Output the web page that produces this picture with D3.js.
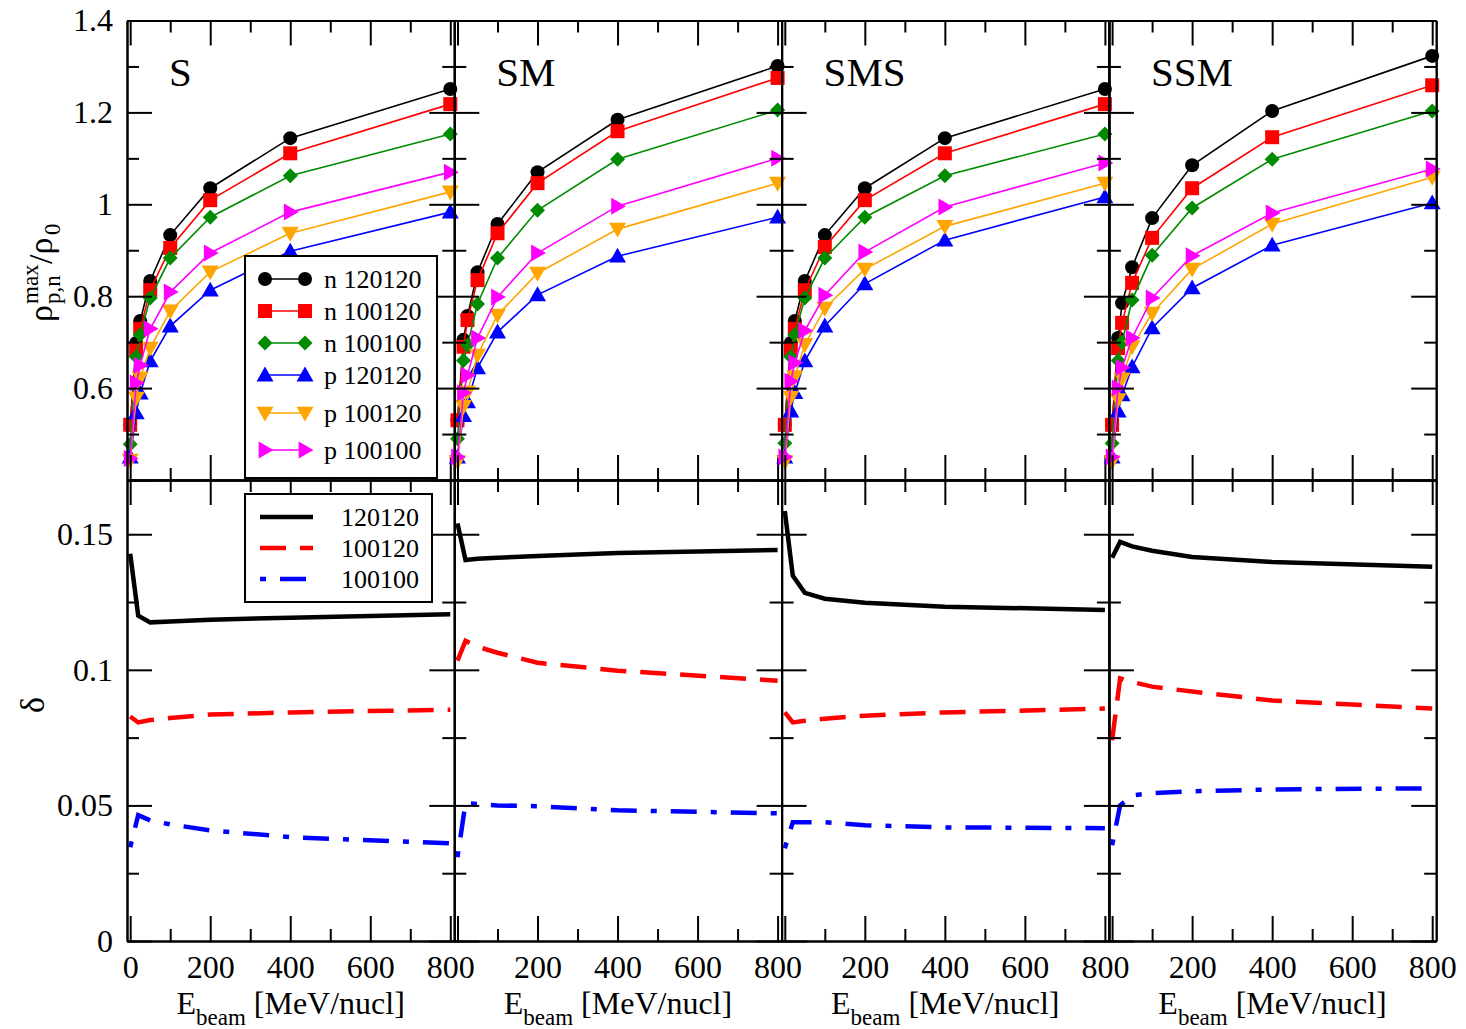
<!DOCTYPE html>
<html>
<head>
<meta charset="utf-8">
<script src="https://cdn.jsdelivr.net/npm/d3@7"></script>
<style>
  body { margin: 0; background: #fff; }
  svg text { font-family: "Liberation Serif", "Times New Roman", serif; fill: #000; }
</style>
</head>
<body>
<div id="chart"></div>
<script>
// Beam energies (MeV/nucl) of the calculated points
const energies = [0, 15, 25, 50, 100, 200, 400, 800];
const energiesDelta = [0, 20, 50, 100, 200, 400, 800];

const panelNames = ["S", "SM", "SMS", "SSM"];
const seriesNames = ["n 120120", "n 100120", "n 100100", "p 120120", "p 100120", "p 100100"];
const seriesColors = ["#000000", "#ff0000", "#008b00", "#0000ff", "#ffa500", "#ff00ff"];
const seriesSymbols = ["circle", "square", "diamond", "up", "down", "right"];

// rho_max / rho_0, one row per series (order as seriesNames)
const rhoS = [
  [0.52, 0.698, 0.746, 0.833, 0.933, 1.035, 1.144, 1.251],
  [0.52, 0.683, 0.729, 0.813, 0.905, 1.009, 1.111, 1.218],
  [0.478, 0.668, 0.716, 0.796, 0.883, 0.972, 1.062, 1.153],
  [0.45, 0.546, 0.589, 0.659, 0.735, 0.813, 0.898, 0.983],
  [0.443, 0.578, 0.622, 0.687, 0.768, 0.853, 0.937, 1.027],
  [0.447, 0.611, 0.650, 0.729, 0.809, 0.894, 0.983, 1.070]
];
const rhoSM = [
  [0.53, 0.705, 0.757, 0.852, 0.957, 1.070, 1.184, 1.301],
  [0.53, 0.690, 0.748, 0.835, 0.937, 1.046, 1.159, 1.275],
  [0.49, 0.660, 0.694, 0.783, 0.883, 0.987, 1.098, 1.205],
  [0.45, 0.540, 0.570, 0.644, 0.722, 0.803, 0.887, 0.972],
  [0.44, 0.560, 0.591, 0.672, 0.759, 0.850, 0.946, 1.046],
  [0.45, 0.590, 0.628, 0.709, 0.798, 0.894, 0.996, 1.100]
];
const rhoSMS = [
  [0.52, 0.698, 0.746, 0.833, 0.933, 1.035, 1.144, 1.251],
  [0.52, 0.683, 0.729, 0.813, 0.907, 1.009, 1.111, 1.218],
  [0.48, 0.668, 0.716, 0.796, 0.883, 0.972, 1.062, 1.153],
  [0.45, 0.550, 0.590, 0.659, 0.735, 0.827, 0.922, 1.016],
  [0.44, 0.580, 0.625, 0.695, 0.774, 0.859, 0.952, 1.046],
  [0.45, 0.615, 0.655, 0.725, 0.802, 0.896, 0.994, 1.090]
];
const rhoSSM = [
  [0.52, 0.709, 0.785, 0.863, 0.970, 1.085, 1.203, 1.323],
  [0.52, 0.687, 0.742, 0.829, 0.927, 1.035, 1.146, 1.259],
  [0.48, 0.660, 0.700, 0.792, 0.889, 0.992, 1.098, 1.203],
  [0.45, 0.550, 0.585, 0.646, 0.731, 0.818, 0.911, 1.003],
  [0.44, 0.575, 0.620, 0.690, 0.763, 0.859, 0.957, 1.059],
  [0.45, 0.600, 0.645, 0.709, 0.796, 0.888, 0.981, 1.077]
];

// delta, one row per system
const deltaNames = ["120120", "100120", "100100"];
const deltaColors = ["#000000", "#ff0000", "#0000ff"];
const deltaDashes = [null, "26,14", "6,14,26,14"];
const deltaS = [
  [0.1428, 0.1200, 0.1175, 0.1178, 0.1185, 0.1192, 0.1205],
  [0.0828, 0.0806, 0.0815, 0.0822, 0.0835, 0.0843, 0.0853],
  [0.0346, 0.0464, 0.0445, 0.0430, 0.0408, 0.0383, 0.0360]
];
const deltaSM = [
  [0.1540, 0.1405, 0.1410, 0.1413, 0.1420, 0.1431, 0.1442],
  [0.1034, 0.1107, 0.1085, 0.1063, 0.1026, 0.0997, 0.0960],
  [0.0309, 0.0508, 0.0505, 0.0500, 0.0497, 0.0482, 0.0471]
];
const deltaSMS = [
  [0.1586, 0.1347, 0.1284, 0.1262, 0.1247, 0.1233, 0.1221],
  [0.0843, 0.0806, 0.0812, 0.0820, 0.0831, 0.0843, 0.0857],
  [0.0342, 0.0438, 0.0438, 0.0438, 0.0427, 0.0419, 0.0416]
];
const deltaSSM = [
  [0.1413, 0.1472, 0.1455, 0.1439, 0.1416, 0.1398, 0.1380],
  [0.0740, 0.0968, 0.0955, 0.0938, 0.0920, 0.0887, 0.0857],
  [0.0353, 0.0500, 0.0537, 0.0545, 0.0552, 0.0559, 0.0563]
];

const rhoPanels = [rhoS, rhoSM, rhoSMS, rhoSSM];
const deltaPanels = [deltaS, deltaSM, deltaSMS, deltaSSM];

// Tick values
const xMajor = [0, 200, 400, 600, 800];
const xMinor = [100, 300, 500, 700];
const rhoMajor = [0.4, 0.6, 0.8, 1.0, 1.2, 1.4];
const rhoMinor = [0.5, 0.7, 0.9, 1.1, 1.3];
const deltaMajor = [0, 0.05, 0.1, 0.15];
const deltaMinor = [0.025, 0.075, 0.125];

// Layout
const width = 1466, height = 1029;
const left0 = 127, panelW = 327.3;
const topY = 20.5, midY = 480, botY = 941;
const bigTick = 25, smallTick = 12;
const serif = '"Liberation Serif", "Times New Roman", serif';

const svg = d3.select("#chart").append("svg")
  .attr("width", width)
  .attr("height", height);

const yRho = d3.scaleLinear().domain([0.4, 1.4]).range([midY, topY]);
const yDelta = d3.scaleLinear().domain([0, 0.17]).range([botY, midY]);

const fmt = d => String(+d.toFixed(3));

function addAxis(axisFn, scale, transform, values, size, labelFn) {
  const ax = axisFn(scale)
    .tickValues(values)
    .tickSize(-size)
    .tickSizeOuter(0)
    .tickPadding(14)
    .tickFormat(labelFn || (() => ""));
  const g = svg.append("g").attr("transform", transform).call(ax);
  g.attr("font-family", serif).attr("font-size", 32);
  g.selectAll("path.domain").attr("stroke", "#000").attr("stroke-width", 2);
  g.selectAll(".tick line").attr("stroke", "#000").attr("stroke-width", 2);
  return g;
}

function frame(x, y, yMajor, yMinor, xLabelFn, yLabelFn) {
  const [x0, x1] = x.range();
  const [y0, y1] = y.range();
  // bottom + top
  addAxis(d3.axisBottom, x, `translate(0,${y0})`, xMajor, bigTick, xLabelFn);
  addAxis(d3.axisBottom, x, `translate(0,${y0})`, xMinor, smallTick);
  addAxis(d3.axisTop, x, `translate(0,${y1})`, xMajor, bigTick);
  addAxis(d3.axisTop, x, `translate(0,${y1})`, xMinor, smallTick);
  // left + right
  addAxis(d3.axisLeft, y, `translate(${x0},0)`, yMajor, bigTick, yLabelFn);
  addAxis(d3.axisLeft, y, `translate(${x0},0)`, yMinor, smallTick);
  addAxis(d3.axisRight, y, `translate(${x1},0)`, yMajor, bigTick);
  addAxis(d3.axisRight, y, `translate(${x1},0)`, yMinor, smallTick);
}

function symbolPath(type, cx, cy) {
  const r = 7, t = 8.5;
  switch (type) {
    case "circle":
      return `M${cx + r},${cy}A${r},${r} 0 1,1 ${cx - r},${cy}A${r},${r} 0 1,1 ${cx + r},${cy}Z`;
    case "square":
      return `M${cx - 7},${cy - 7}h14v14h-14Z`;
    case "diamond":
      return `M${cx},${cy - 7.5}L${cx + 7.5},${cy}L${cx},${cy + 7.5}L${cx - 7.5},${cy}Z`;
    case "up":
      return `M${cx},${cy - t}L${cx + t},${cy + t * 0.75}L${cx - t},${cy + t * 0.75}Z`;
    case "down":
      return `M${cx},${cy + t}L${cx + t},${cy - t * 0.75}L${cx - t},${cy - t * 0.75}Z`;
    case "right":
      return `M${cx + t},${cy}L${cx - t * 0.75},${cy - t}L${cx - t * 0.75},${cy + t}Z`;
  }
}

panelNames.forEach((name, i) => {
  const L = left0 + i * panelW;
  const x = d3.scaleLinear().domain([-8, 810]).range([L, L + panelW]);
  const xLabelFn = d => (i > 0 && d === 0) ? "" : String(d);

  // top row: rho_max / rho_0
  const rhoG = svg.append("g");
  rhoPanels[i].forEach((vals, s) => {
    const pts = energies.map((e, k) => [e, vals[k]]);
    rhoG.append("path")
      .attr("d", d3.line().x(d => x(d[0])).y(d => yRho(d[1]))(pts))
      .attr("fill", "none")
      .attr("stroke", seriesColors[s])
      .attr("stroke-width", 1.6);
    rhoG.selectAll(null)
      .data(pts)
      .enter().append("path")
      .attr("d", d => symbolPath(seriesSymbols[s], x(d[0]), yRho(d[1])))
      .attr("fill", seriesColors[s]);
  });

  // bottom row: delta
  const dG = svg.append("g");
  deltaPanels[i].forEach((vals, s) => {
    const pts = energiesDelta.map((e, k) => [e, vals[k]]);
    dG.append("path")
      .attr("d", d3.line().x(d => x(d[0])).y(d => yDelta(d[1]))(pts))
      .attr("fill", "none")
      .attr("stroke", deltaColors[s])
      .attr("stroke-width", 4.5)
      .attr("stroke-dasharray", deltaDashes[s]);
  });

  frame(x, yRho, rhoMajor, rhoMinor, () => "", i === 0 ? (d => d === 0.4 ? "" : fmt(d)) : null);
  frame(x, yDelta, deltaMajor, deltaMinor, xLabelFn, i === 0 ? fmt : null);

  // panel name
  svg.append("text")
    .attr("x", L + 42)
    .attr("y", 86)
    .attr("font-size", 41)
    .text(name);

  // x axis title
  const xt = svg.append("text")
    .attr("x", L + panelW / 2)
    .attr("y", 1014)
    .attr("text-anchor", "middle")
    .attr("font-size", 32);
  xt.append("tspan").text("E");
  xt.append("tspan").attr("dy", 11).attr("font-size", 23).text("beam");
  xt.append("tspan").attr("dy", -11).text(" [MeV/nucl]");
});

// top legend
const leg1 = svg.append("g");
leg1.append("rect")
  .attr("x", 245).attr("y", 256).attr("width", 192).attr("height", 222)
  .attr("fill", "#fff").attr("stroke", "#000").attr("stroke-width", 2);
const leg1Rows = [279, 311, 343, 375, 413, 450];
seriesNames.forEach((n, s) => {
  const cy = leg1Rows[s];
  leg1.append("line")
    .attr("x1", 265).attr("x2", 305).attr("y1", cy).attr("y2", cy)
    .attr("stroke", seriesColors[s]).attr("stroke-width", 1.6);
  [265, 305].forEach(cx => leg1.append("path")
    .attr("d", symbolPath(seriesSymbols[s], cx, cy))
    .attr("fill", seriesColors[s]));
  leg1.append("text")
    .attr("x", 324).attr("y", cy + 9)
    .attr("font-size", 26)
    .text(n);
});

// bottom legend
const leg2 = svg.append("g");
leg2.append("rect")
  .attr("x", 245).attr("y", 494).attr("width", 187).attr("height", 108)
  .attr("fill", "#fff").attr("stroke", "#000").attr("stroke-width", 2);
const leg2Rows = [517, 548, 579];
deltaNames.forEach((n, s) => {
  const cy = leg2Rows[s];
  leg2.append("line")
    .attr("x1", 260).attr("x2", 313).attr("y1", cy).attr("y2", cy)
    .attr("stroke", deltaColors[s]).attr("stroke-width", 4.5)
    .attr("stroke-dasharray", deltaDashes[s]);
  leg2.append("text")
    .attr("x", 341).attr("y", cy + 9)
    .attr("font-size", 26)
    .text(n);
});

// y axis titles
const yt = svg.append("g").attr("transform", "translate(52,250) rotate(-90)");
yt.append("text").attr("x", -72).attr("y", 0).attr("font-size", 34).text("ρ");
yt.append("text").attr("x", -54).attr("y", -14).attr("font-size", 23).text("max");
yt.append("text").attr("x", -54).attr("y", 8).attr("font-size", 23).text("p,n");
yt.append("text").attr("x", -14).attr("y", 0).attr("font-size", 34).text("/ρ");
yt.append("text").attr("x", 15).attr("y", 8).attr("font-size", 23).text("0");

svg.append("text")
  .attr("transform", "translate(44,705) rotate(-90)")
  .attr("text-anchor", "middle")
  .attr("font-size", 34)
  .text("δ");
</script>
</body>
</html>
